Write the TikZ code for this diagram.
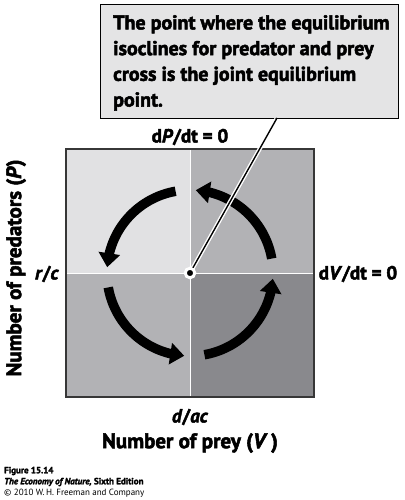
\documentclass[tikz,border=0pt]{standalone}
\usepackage{fontspec}
\setmainfont{PT Sans}[BoldFeatures={FakeBold=2.5}, BoldItalicFeatures={FakeBold=2.5}]
\usetikzlibrary{arrows.meta,bending}
\definecolor{qTL}{RGB}{225,225,227}
\definecolor{qTR}{RGB}{178,178,181}
\definecolor{qBL}{RGB}{178,178,181}
\definecolor{qBR}{RGB}{137,137,141}
\definecolor{boxfill}{RGB}{228,228,229}
\definecolor{frame}{RGB}{55,55,55}
\tikzset{
  flowarrow/.style={line width=9.5pt, -{Triangle[width=21pt,length=14pt,flex]}},
  lab/.style={font=\bfseries\fontsize{19}{21}\selectfont, inner sep=0pt},
  axislab/.style={font=\bfseries\fontsize{21}{23}\selectfont, inner sep=0pt},
  capt/.style={font=\fontsize{9}{10}\selectfont, inner sep=0pt, anchor=west},
  callout/.style={draw=black, line width=1.4pt, fill=boxfill, anchor=north west,
    minimum width=298pt, minimum height=114pt, inner sep=0pt},
  callouttext/.style={anchor=north west, align=left, inner sep=0pt,
    font=\bfseries\fontsize{20}{25.7}\selectfont},
}
\begin{document}
\begin{tikzpicture}[x=1pt,y=-1pt]
\useasboundingbox (0,0) rectangle (404,500);
% quadrants
\fill[qTL] (66,149) rectangle (190,273);
\fill[qTR] (190,149) rectangle (314,273);
\fill[qBL] (66,273) rectangle (190,397);
\fill[qBR] (190,273) rectangle (314,397);
\draw[white, line width=1pt] (190,149) -- (190,397) (66,273) -- (314,273);
\draw[frame, line width=1.1pt] (66,149) rectangle (314,397);
% callout box
\node[callout] (call) at (100,4) {};
\node[callouttext] (calltext) at (113,15) {The point where the equilibrium\\isoclines for predator and prey\\cross is the joint equilibrium\\point.};
\coordinate (ptr) at (277,118);
\coordinate (eqc) at (190,273);
% flow arrows
\draw[flowarrow] ([shift={(100:83pt)}]eqc) arc[start angle=100, end angle=176, radius=83pt];
\draw[flowarrow] ([shift={(10:83pt)}]eqc) arc[start angle=10, end angle=86, radius=83pt];
\draw[flowarrow] ([shift={(190:83pt)}]eqc) arc[start angle=190, end angle=266, radius=83pt];
\draw[flowarrow] ([shift={(280:83pt)}]eqc) arc[start angle=280, end angle=356, radius=83pt];
% pointer
\draw[white, line width=4.2pt, shorten <=1.2pt] (ptr) -- (eqc);
\draw[black, line width=1.4pt] (ptr) -- (eqc);
\node[circle, fill=black, draw=white, line width=3pt, inner sep=0pt, minimum size=9.5pt] (eq) at (eqc) {};
% labels
\node[lab] (dpdt) at (190,137) {d\textit{P}/dt = 0};
\node[lab] (dvdt) at (358,274) {d\textit{V}/dt = 0};
\node[lab, anchor=east] (rc) at (59,274) {\textit{r}/\textit{c}};
\node[lab] (dac) at (190,417) {\textit{d}/\textit{ac}};
\node[axislab] (xlab) at (190,443) {Number of prey (\textit{V}\,)};
\node[axislab, rotate=90] (ylab) at (16,268) {Number of predators (\textit{P})};
% caption
\node[capt, font=\bfseries\fontsize{9}{10}\selectfont] (c1) at (4,471) {Figure 15.14};
\node[capt] (c2) at (4,482) {\textbf{\textit{The Economy of Nature,}} \textbf{Sixth Edition}};
\node[capt] (c3) at (4,493) {© 2010 W.\,H. Freeman and Company};
\end{tikzpicture}
\end{document}
